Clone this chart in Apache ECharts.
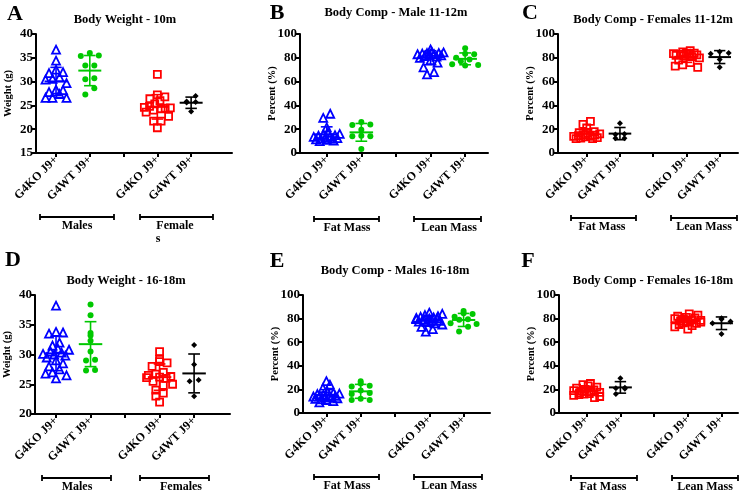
<!DOCTYPE html>
<html>
<head>
<meta charset="utf-8">
<script src="https://cdn.jsdelivr.net/npm/echarts@6/dist/echarts.min.js"></script>
<style>
  html, body { margin: 0; padding: 0; background: #fff; }
  #chart { width: 749px; height: 496px; }
</style>
</head>
<body>
<div id="chart"></div>
<script>
// x-axis group labels (slot 3 is the empty gap)
const groupLabels = ['G4KO J9+', 'G4WT J9+', '', 'G4KO J9+', 'G4WT J9+'];
const groupX = [1, 2, 4, 5];

// A - body weight 10m (g)
const aMaleKO = [36.7, 34.4, 32.5, 32.0, 31.8, 30.9, 30.6, 30.4, 29.7, 28.3, 28.2, 27.8, 27.4, 26.6, 26.6, 26.6];
const aMaleWT = [36.0, 35.5, 35.4, 33.4, 33.4, 30.7, 30.5, 28.6, 27.3];
const aFemKO = [31.5, 27.2, 26.8, 26.4, 26.0, 25.3, 24.8, 24.6, 24.5, 24.4, 24.3, 24.0, 23.6, 22.7, 21.7, 21.7, 20.3];
const aFemWT = [27.0, 25.8, 25.7, 25.6, 23.7];

// B - body comp males 11-12m (%)
const bFatKO = [33, 29.5, 21.5, 17, 16, 15.5, 15, 14.5, 14, 13.5, 13, 12.5, 12, 12, 11.5, 11, 10.5, 10];
const bFatWT = [26, 24, 23.5, 19.5, 14.5, 14, 14, 3.3];
const bLeanKO = [87, 85, 84.5, 84, 84, 83.5, 83, 83, 82.5, 82, 81.5, 81, 80, 78, 76, 72, 68, 66];
const bLeanWT = [88, 83.5, 83, 80, 78.5, 77, 74.5, 74, 73.5];

// C - body comp females 11-12m (%)
const cFatKO = [26.5, 24, 21, 18, 17, 16.5, 16, 15.5, 15, 14.5, 14, 14, 13.5, 13, 12.5, 12, 12];
const cFatWT = [25, 16, 15.5, 12.5, 12.5];
const cLeanKO = [86, 85, 84, 84, 83.5, 83, 83, 82.5, 82, 81.5, 81, 80, 78, 76, 74, 73, 72];
const cLeanWT = [85, 84, 83.5, 78.5, 72];

// D - body weight 16-18m (g)
const dMaleKO = [38.2, 33.8, 33.7, 33.5, 32.0, 31.5, 31.0, 30.8, 30.5, 30.3, 30.1, 30.0, 29.8, 29.5, 29.0, 28.5, 28.0, 27.5, 27.0, 26.8, 26.5, 26.0];
const dMaleWT = [38.4, 36.6, 33.6, 33.2, 32.3, 30.5, 29.1, 29.0, 27.4, 27.3];
const dFemKO = [30.5, 29.2, 28.8, 28.6, 28.0, 27.0, 26.7, 26.5, 26.3, 26.2, 26.1, 26.0, 25.5, 25.0, 24.8, 24.0, 23.5, 23.0, 22.0];
const dFemWT = [31.6, 28.3, 25.7, 25.5, 23.0];

// E - body comp males 16-18m (%)
const eFatKO = [27, 24, 21, 18, 17, 16.5, 16, 15.5, 15, 14.5, 14, 14, 13.5, 13, 12.5, 12, 11.5, 11, 10, 9];
const eFatWT = [27, 25, 23, 22.5, 19, 17, 16, 12, 11, 11];
const eLeanKO = [85, 84, 83, 82, 81.5, 81, 80.5, 80, 80, 79.5, 79, 78.5, 78, 77.5, 77, 76, 75, 73, 71, 69];
const eLeanWT = [86.5, 84.5, 84, 81.5, 79.5, 79, 76, 75.5, 73, 69];

// F - body comp females 16-18m (%)
const fFatKO = [25, 24, 23, 22, 21, 20, 19.5, 19, 18.5, 18, 17.5, 17, 16.5, 16, 15.5, 15, 14, 13];
const fFatWT = [29.5, 21.5, 21, 20.5, 16];
const fLeanKO = [84, 83, 82, 81, 80.5, 80, 79.5, 79, 78.5, 78, 77.5, 77, 76.5, 76, 75, 74, 73, 71];
const fLeanWT = [80.3, 79.5, 77.5, 76, 67];

const FONT = '"Liberation Serif", "Times New Roman", serif';

const STYLE = {
  koM: { symbol: 'triangle', size: 8, gap: 7, color: '#0000ff', open: true },
  wtM: { symbol: 'circle', size: 6, gap: 9, color: '#00c800', open: false },
  koF: { symbol: 'rect', size: 7, gap: 7.5, color: '#ff0000', open: true },
  wtF: { symbol: 'diamond', size: 6, gap: 9, color: '#000000', open: false }
};

const panels = [
  {
    letter: 'A', lx: 15, ly: 14, title: 'Body Weight - 10m', tx: 125, ty: 20,
    grid: { left: 36, top: 34, width: 196, height: 119 }, xMin: 0.407, xMax: 6.21,
    yMin: 15, yMax: 40, yStep: 5, yName: 'Weight (g)',
    groups: [[aMaleKO, 'koM'], [aMaleWT, 'wtM'], [aFemKO, 'koF'], [aFemWT, 'wtF']],
    brackets: [
      { x1: 40, x2: 114, y: 217, label: ['Males'], cx: 77 },
      { x1: 140, x2: 213, y: 217, label: ['Female', 's'], cx: 175 }
    ]
  },
  {
    letter: 'B', lx: 277, ly: 13, title: 'Body Comp - Male 11-12m', tx: 396, ty: 13,
    grid: { left: 300, top: 34, width: 188, height: 119 }, xMin: 0.228, xMax: 5.66,
    yMin: 0, yMax: 100, yStep: 20, yName: 'Percent (%)',
    groups: [[bFatKO, 'koM'], [bFatWT, 'wtM'], [bLeanKO, 'koM'], [bLeanWT, 'wtM']],
    brackets: [
      { x1: 314, x2: 379, y: 219, label: ['Fat Mass'], cx: 347 },
      { x1: 414, x2: 481, y: 219, label: ['Lean Mass'], cx: 449 }
    ]
  },
  {
    letter: 'C', lx: 530, ly: 13, title: 'Body Comp - Females 11-12m', tx: 653, ty: 20,
    grid: { left: 558, top: 34, width: 180, height: 119 }, xMin: 0.137, xMax: 5.55,
    yMin: 0, yMax: 100, yStep: 20, yName: 'Percent (%)',
    groups: [[cFatKO, 'koF'], [cFatWT, 'wtF'], [cLeanKO, 'koF'], [cLeanWT, 'wtF']],
    brackets: [
      { x1: 571, x2: 636, y: 218, label: ['Fat Mass'], cx: 602 },
      { x1: 671, x2: 737, y: 218, label: ['Lean Mass'], cx: 704 }
    ]
  },
  {
    letter: 'D', lx: 13, ly: 260, title: 'Body Weight - 16-18m', tx: 126, ty: 281,
    grid: { left: 35, top: 295, width: 195, height: 119 }, xMin: 0.391, xMax: 6.04,
    yMin: 20, yMax: 40, yStep: 5, yName: 'Weight (g)',
    groups: [[dMaleKO, 'koM'], [dMaleWT, 'wtM'], [dFemKO, 'koF'], [dFemWT, 'wtF']],
    brackets: [
      { x1: 42, x2: 111, y: 478, label: ['Males'], cx: 77 },
      { x1: 140, x2: 209, y: 478, label: ['Females'], cx: 181 }
    ]
  },
  {
    letter: 'E', lx: 277, ly: 261, title: 'Body Comp - Males 16-18m', tx: 395, ty: 271,
    grid: { left: 303, top: 295, width: 187, height: 118 }, xMin: 0.318, xMax: 5.77,
    yMin: 0, yMax: 100, yStep: 20, yName: 'Percent (%)',
    groups: [[eFatKO, 'koM'], [eFatWT, 'wtM'], [eLeanKO, 'koM'], [eLeanWT, 'wtM']],
    brackets: [
      { x1: 314, x2: 379, y: 477, label: ['Fat Mass'], cx: 347 },
      { x1: 414, x2: 482, y: 477, label: ['Lean Mass'], cx: 449 }
    ]
  },
  {
    letter: 'F', lx: 528, ly: 261, title: 'Body Comp - Females 16-18m', tx: 653, ty: 281,
    grid: { left: 559, top: 295, width: 179, height: 118 }, xMin: 0.178, xMax: 5.49,
    yMin: 0, yMax: 100, yStep: 20, yName: 'Percent (%)',
    groups: [[fFatKO, 'koF'], [fFatWT, 'wtF'], [fLeanKO, 'koF'], [fLeanWT, 'wtF']],
    brackets: [
      { x1: 571, x2: 637, y: 478, label: ['Fat Mass'], cx: 603 },
      { x1: 672, x2: 738, y: 478, label: ['Lean Mass'], cx: 705 }
    ]
  }
];

function meanSd(values) {
  const m = values.reduce((s, v) => s + v, 0) / values.length;
  const v = values.reduce((s, x) => s + (x - m) * (x - m), 0) / (values.length - 1);
  return [m, Math.sqrt(v)];
}

function gcd(a, b) { return b ? gcd(b, a % b) : a; }

// row-based scatter spread (like a column scatter plot), capped width
function swarm(values, pxPerX, pxPerY, rowH, gap, maxHalf) {
  const rows = new Map();
  values.forEach((v, i) => {
    const r = Math.round(v * pxPerY / rowH);
    if (!rows.has(r)) rows.set(r, []);
    rows.get(r).push(i);
  });
  const offs = new Array(values.length).fill(0);
  rows.forEach(idxs => {
    const n = idxs.length;
    const sp = n > 1 ? Math.min(gap, 2 * maxHalf / (n - 1)) : 0;
    // mix the order so the row does not slope with value
    let k = 3;
    while (n > 1 && gcd(k, n) !== 1) k++;
    idxs.forEach((i, j) => {
      const slot = n > 1 ? (j * k + Math.floor(n / 2)) % n : 0;
      offs[i] = (slot - (n - 1) / 2) * sp / pxPerX;
    });
  });
  return offs;
}

function renderErrBar(params, api) {
  const x = api.value(0), m = api.value(1), sd = api.value(2);
  const c = api.coord([x, m]);
  const hi = api.coord([x, m + sd]);
  const lo = api.coord([x, m - sd]);
  const half = api.size([0.34, 0])[0];
  const cap = api.size([0.17, 0])[0];
  const style = { stroke: api.visual('color'), lineWidth: 1.6 };
  return {
    type: 'group',
    children: [
      { type: 'line', shape: { x1: c[0] - half, y1: c[1], x2: c[0] + half, y2: c[1] }, style: { stroke: style.stroke, lineWidth: 2 } },
      { type: 'line', shape: { x1: c[0], y1: hi[1], x2: c[0], y2: lo[1] }, style },
      { type: 'line', shape: { x1: c[0] - cap, y1: hi[1], x2: c[0] + cap, y2: hi[1] }, style },
      { type: 'line', shape: { x1: c[0] - cap, y1: lo[1], x2: c[0] + cap, y2: lo[1] }, style }
    ]
  };
}

const grids = [], xAxes = [], yAxes = [], series = [], graphic = [];
const axisLine = { show: true, lineStyle: { color: '#000', width: 2 } };
const axisTick = { show: true, inside: false, length: 4, lineStyle: { color: '#000', width: 2 } };

panels.forEach((p, idx) => {
  grids.push(p.grid);
  xAxes.push({
    type: 'value', gridIndex: idx, min: p.xMin, max: p.xMax,
    splitLine: { show: false }, axisLine,
    axisTick: { ...axisTick, customValues: [1, 2, 3, 4, 5] },
    axisLabel: {
      customValues: groupX, rotate: 45, margin: 5,
      color: '#000', fontFamily: FONT, fontWeight: 'bold', fontSize: 12,
      formatter: v => groupLabels[Math.round(v) - 1] || ''
    }
  });
  yAxes.push({
    type: 'value', gridIndex: idx, min: p.yMin, max: p.yMax, interval: p.yStep,
    splitLine: { show: false }, axisLine, axisTick,
    axisLabel: { margin: 3, color: '#000', fontFamily: FONT, fontWeight: 'bold', fontSize: 13 },
    name: p.yName, nameLocation: 'middle', nameGap: 22, nameMoveOverlap: false,
    nameTextStyle: { color: '#000', fontFamily: FONT, fontWeight: 'bold', fontSize: 10.5 }
  });

  const pxPerX = p.grid.width / (p.xMax - p.xMin);
  const pxPerY = p.grid.height / (p.yMax - p.yMin);

  p.groups.forEach(([values, key], g) => {
    const st = STYLE[key];
    const x0 = groupX[g];
    const offs = swarm(values, pxPerX, pxPerY, st.size + 1, st.gap, 13);
    series.push({
      type: 'scatter', xAxisIndex: idx, yAxisIndex: idx,
      symbol: st.symbol, symbolSize: st.size, silent: true,
      itemStyle: st.open
        ? { color: 'rgba(255,255,255,0)', borderColor: st.color, borderWidth: 1.8, opacity: 1 }
        : { color: st.color, opacity: 1 },
      data: values.map((v, i) => [x0 + offs[i], v]),
      z: 2
    });
    const [m, sd] = meanSd(values);
    series.push({
      type: 'custom', xAxisIndex: idx, yAxisIndex: idx,
      renderItem: renderErrBar, silent: true,
      itemStyle: { color: st.color },
      data: [[x0, m, sd]],
      z: 3
    });
  });

  graphic.push({
    type: 'text', x: p.lx, y: p.ly,
    style: { text: p.letter, fill: '#000', font: 'bold 22px ' + FONT, align: 'center', verticalAlign: 'middle' }
  });
  graphic.push({
    type: 'text', x: p.tx, y: p.ty,
    style: { text: p.title, fill: '#000', font: 'bold 12.5px ' + FONT, align: 'center', verticalAlign: 'middle' }
  });
  p.brackets.forEach(b => {
    const ln = { stroke: '#000', lineWidth: 1.8 };
    graphic.push({ type: 'line', shape: { x1: b.x1, y1: b.y, x2: b.x2, y2: b.y }, style: ln });
    graphic.push({ type: 'line', shape: { x1: b.x1, y1: b.y - 3, x2: b.x1, y2: b.y + 3 }, style: ln });
    graphic.push({ type: 'line', shape: { x1: b.x2, y1: b.y - 3, x2: b.x2, y2: b.y + 3 }, style: ln });
    graphic.push({
      type: 'text', x: b.cx, y: b.y + 9,
      style: { text: b.label[0], fill: '#000', font: 'bold 12px ' + FONT, align: 'center', verticalAlign: 'middle' }
    });
    if (b.label[1]) {
      graphic.push({
        type: 'text', x: 158, y: b.y + 22,
        style: { text: b.label[1], fill: '#000', font: 'bold 12px ' + FONT, align: 'center', verticalAlign: 'middle' }
      });
    }
  });
});

const chart = echarts.init(document.getElementById('chart'), null, { renderer: 'canvas' });
chart.setOption({
  backgroundColor: '#fff',
  animation: false,
  grid: grids,
  xAxis: xAxes,
  yAxis: yAxes,
  series,
  graphic
});
</script>
</body>
</html>
